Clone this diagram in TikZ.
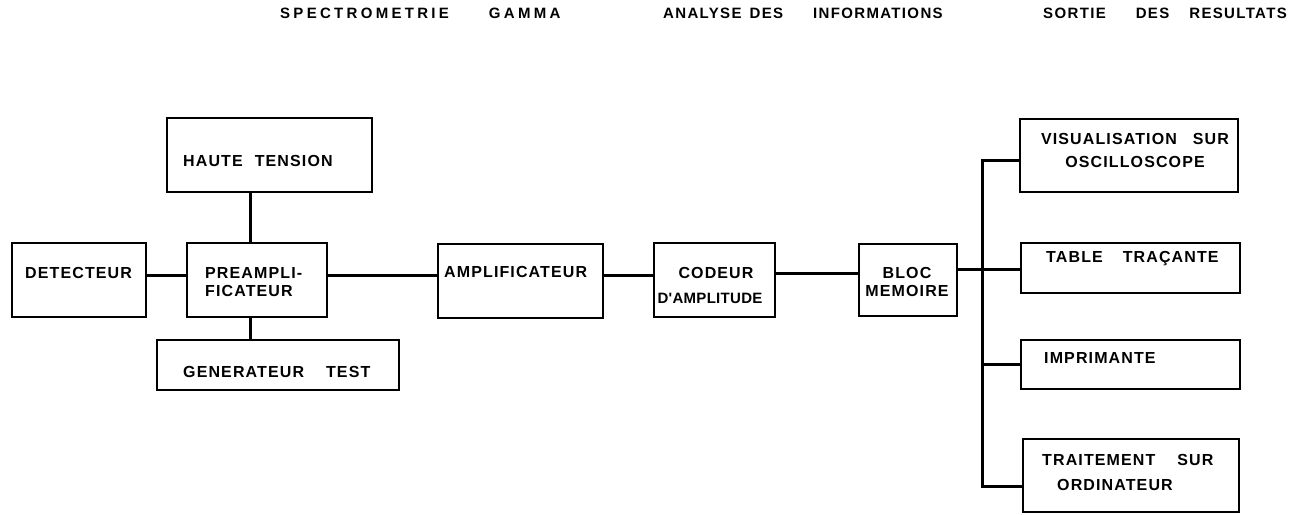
\documentclass[tikz,border=0pt]{standalone}
\usepackage{fontspec}
\setmainfont{Liberation Sans}
\newfontfamily\boxfont[LetterSpace=7]{Liberation Sans}
\newfontfamily\headwide[LetterSpace=22]{Liberation Sans}
\newfontfamily\headnarrow[LetterSpace=9]{Liberation Sans}
\usetikzlibrary{fit}
\begin{document}
\begin{tikzpicture}[x=1pt,y=-1pt,
  blk/.style={draw, line width=1.7pt, inner sep=0pt},
  wire/.style={line width=3pt},
  lbl/.style={font=\boxfont\bfseries\fontsize{16}{18}\selectfont, inner sep=0pt, anchor=west},
  head/.style={inner sep=0pt, anchor=west}]
\useasboundingbox (0,0) rectangle (1306,514);

% column headings
\node[head, font=\headwide\bfseries\fontsize{15}{17}\selectfont] (h1) at (280,13) {SPECTROMETRIE\hspace{40pt}GAMMA};
\node[head, font=\headnarrow\bfseries\fontsize{15}{17}\selectfont] (h2) at (663,13) {ANALYSE\hspace{8pt}DES\hspace{30pt}INFORMATIONS};
\node[head, font=\headnarrow\bfseries\fontsize{15}{17}\selectfont] (h3) at (1043,13) {SORTIE\hspace{30pt}DES\hspace{20pt}RESULTATS};

% blocks
\node[blk, fit={(167,118)(372,192)}] (ht) {};
\node[blk, fit={(12,243)(146,317)}] (det) {};
\node[blk, fit={(187,243)(327,317)}] (pre) {};
\node[blk, fit={(157,340)(399,390)}] (gen) {};
\node[blk, fit={(438,244)(603,318)}] (amp) {};
\node[blk, fit={(654,243)(775,317)}] (cod) {};
\node[blk, fit={(859,244)(957,316)}] (bloc) {};
\node[blk, fit={(1020,119)(1238,192)}] (visu) {};
\node[blk, fit={(1021,243)(1240,293)}] (trac) {};
\node[blk, fit={(1021,340)(1240,389)}] (impr) {};
\node[blk, fit={(1023,439)(1239,512)}] (trait) {};

% block labels
\node[lbl] (tht) at (183,161) {HAUTE\hspace{12pt}TENSION};
\node[lbl] (tdet) at (25,273) {DETECTEUR};
\node[lbl, align=left] (tpre) at (205,282) {PREAMPLI-\\FICATEUR};
\node[lbl] (tgen) at (183,372) {GENERATEUR\hspace{22pt}TEST};
\node[lbl] (tamp) at (444,272) {AMPLIFICATEUR};
\node[lbl, anchor=center, align=center, font=\boxfont\bfseries\fontsize{16}{25}\selectfont] (tcod) at (710,285.5)
  {\hspace*{12pt}CODEUR\\{\addfontfeature{LetterSpace=2}\fontsize{15}{25}\selectfont D'AMPLITUDE}};
\node[lbl, anchor=center, align=center] (tbloc) at (907,281.5) {BLOC\\MEMOIRE};
\node[lbl, anchor=center, align=center, font=\boxfont\bfseries\fontsize{16}{23}\selectfont] (tvisu) at (1135,150.5) {VISUALISATION\hspace{16pt}SUR\\OSCILLOSCOPE};
\node[lbl] (ttrac) at (1046,259) {TABLE\hspace{20pt}TRAÇANTE};
\node[lbl] (timpr) at (1044,358) {IMPRIMANTE};
\node[lbl, align=left, font=\boxfont\bfseries\fontsize{16}{25}\selectfont] (ttrait) at (1042,472.5) {TRAITEMENT\hspace{22pt}SUR\\\hspace*{15pt}ORDINATEUR};

% connections of the gamma spectrometry chain
\draw[wire] ([xshift=-7]pre.north) -- ([xshift=-7]pre.north |- ht.south);
\draw[wire] ([xshift=-7]pre.south) -- ([xshift=-7]pre.south |- gen.north);
\draw[wire] ([yshift=5]det.east) -- ([yshift=5]det.east -| pre.west);
\draw[wire] ([yshift=5]pre.east) -- ([yshift=5]pre.east -| amp.west);
\draw[wire] ([yshift=6]amp.east) -- ([yshift=6]amp.east -| cod.west);
\draw[wire] ([yshift=7]cod.east) -- ([yshift=7]cod.east -| bloc.west);

% output bus
\coordinate (bt) at (982,160);
\coordinate (bb) at (982,486);
\draw[wire] ([yshift=-4.5]visu.west) -- (bt) -- (bb) -- (bb -| trait.west);
\draw[wire] ([yshift=11]bloc.east) -- ([yshift=11]bloc.east -| trac.west);
\draw[wire] (impr.west) -- (impr.west -| bt);
\end{tikzpicture}
\end{document}
